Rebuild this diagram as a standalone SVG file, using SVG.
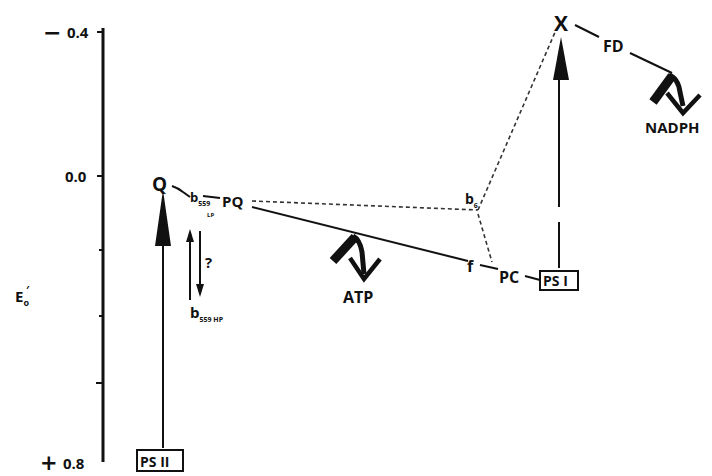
<svg xmlns="http://www.w3.org/2000/svg" width="712" height="476" viewBox="0 0 712 476">
<style>
text{font-family:"Open Sans","DejaVu Sans",sans-serif;font-weight:bold;fill:#111}
.sg{font-family:"DejaVu Sans",sans-serif}
.ax{stroke:#111;stroke-width:3;fill:none}
.ln{stroke:#111;stroke-width:2;fill:none}
.dash{stroke:#333;stroke-width:1.6;stroke-dasharray:4 3;fill:none}
.box{stroke:#111;stroke-width:2;fill:none}
.thick{stroke:#111;stroke-width:9;fill:none;stroke-linecap:butt}
.stem{stroke:#111;stroke-width:5;fill:none}
.chev{stroke:#111;stroke-width:4.5;fill:none;stroke-linejoin:miter}
.head{fill:#111}
</style>
<g id="axis">
<line class="ax" x1="103" y1="28" x2="103" y2="462"/>
<line class="ln" x1="97" y1="32" x2="103" y2="32"/>
<line class="ln" x1="97" y1="176" x2="103" y2="176"/>
<line class="ln" x1="99" y1="250" x2="103" y2="250"/>
<line class="ln" x1="99" y1="316" x2="103" y2="316"/>
<line class="ln" x1="96" y1="383" x2="103" y2="383"/>
<text class="sg" x="43" y="40" font-size="22">−</text>
<text x="67" y="38" font-size="15">0.4</text>
<text x="65" y="182" font-size="15">0.0</text>
<text x="15" y="302" font-size="15">E<tspan font-size="9" dy="4">o</tspan><tspan font-size="11" dy="-12" dx="-3">′</tspan></text>
<text class="sg" x="40" y="470" font-size="21">+</text>
<text x="63" y="469" font-size="15">0.8</text>
</g>
<g id="connectors">
<line class="ln" x1="163" y1="448" x2="163" y2="245"/>
<path class="head" d="M163,190 L155,246 L171,246 Z"/>
<path class="ln" d="M172,186 Q178,188 183,192 L190,197"/>
<line class="ln" x1="203" y1="196" x2="220" y2="198"/>
<line class="ln" x1="190" y1="300" x2="190" y2="240"/>
<path class="head" d="M190,229 L186,242 L194,242 Z"/>
<line class="ln" x1="200" y1="231" x2="200" y2="285"/>
<path class="head" d="M200,297 L196,284 L204,284 Z"/>
<line class="ln" x1="252" y1="207" x2="468" y2="261"/>
<line class="ln" x1="480" y1="265" x2="498" y2="269"/>
<line class="ln" x1="525" y1="276" x2="540" y2="280"/>
<line class="dash" x1="252" y1="201" x2="478" y2="210"/>
<line class="dash" x1="478" y1="210" x2="556" y2="30"/>
<line class="dash" x1="478" y1="214" x2="492" y2="262"/>
<line class="ln" x1="559" y1="268" x2="559" y2="222"/>
<line class="ln" x1="559" y1="207" x2="559" y2="78"/>
<path class="head" d="M561,37 L553,80 L569,80 Z"/>
<line class="ln" x1="575" y1="25" x2="599" y2="37"/>
<line class="ln" x1="630" y1="53" x2="672" y2="73"/>
<path class="thick" d="M333,261 L355,237"/>
<path class="stem" d="M353,236 Q360,240 362,252 L364,274"/>
<polyline class="chev" points="350,258 364,279 380,259"/>
<path class="thick" d="M653,102 L672,76"/>
<path class="stem" d="M669,75 Q678,78 680,92 L683,106"/>
<polyline class="chev" points="667,93 683,113 700,95"/>
</g>
<g id="ps2"><rect class="box" x="137" y="450" width="46" height="21"/><text x="140" y="467" font-size="14">PS II</text></g>
<g id="Q"><text x="152" y="191" font-size="19">Q</text></g>
<g id="b559lp"><text x="190" y="202" font-size="13">b<tspan font-size="7" dy="4">559</tspan></text><text x="207" y="217" font-size="6">LP</text></g>
<g id="PQ"><text x="222" y="207" font-size="15">PQ</text></g>
<g id="q"><text x="205" y="268" font-size="15">?</text></g>
<g id="b559hp"><text x="190" y="318" font-size="15">b<tspan font-size="7" dy="4">559 HP</tspan></text></g>
<g id="ATP"><text x="343" y="303" font-size="16">ATP</text></g>
<g id="b6"><text x="465" y="204" font-size="14">b<tspan font-size="7" dy="4">6</tspan></text></g>
<g id="f"><text x="467" y="272" font-size="16">f</text></g>
<g id="PC"><text x="499" y="283" font-size="16">PC</text></g>
<g id="ps1"><rect class="box" x="540" y="271" width="38" height="19"/><text x="543" y="286" font-size="14">PS I</text></g>
<g id="X"><text x="554" y="31" font-size="21">X</text></g>
<g id="FD"><text x="603" y="52" font-size="16">FD</text></g>
<g id="NADPH"><text x="645" y="133" font-size="15">NADPH</text></g>
</svg>
